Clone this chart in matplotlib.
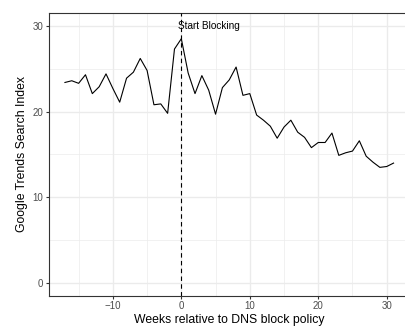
import matplotlib
matplotlib.use("Agg")
import matplotlib.pyplot as plt
from matplotlib.ticker import MultipleLocator

weeks = list(range(-17, 32))
index_values = [23.4, 23.6, 23.3, 24.3, 22.1, 22.9, 24.4, 22.7, 21.1, 23.9,
                24.6, 26.2, 24.8, 20.8, 20.9, 19.8, 27.3, 28.5, 24.5, 22.1,
                24.2, 22.5, 19.7, 22.8, 23.7, 25.2, 21.9, 22.1, 19.6, 19.0,
                18.3, 16.9, 18.2, 19.0, 17.6, 17.0, 15.8, 16.4, 16.4, 17.5,
                14.9, 15.2, 15.4, 16.6, 14.8, 14.1, 13.5, 13.6, 14.0]
block_week = 0
annot_label = "Start Blocking"
annot_x, annot_y = 4, 30
xlabel = "Weeks relative to DNS block policy"
ylabel = "Google Trends Search Index"

plt.rcParams['font.family'] = ['Liberation Sans', 'DejaVu Sans']
dpi = 80
fig = plt.figure(figsize=(405 / dpi, 329 / dpi), dpi=dpi)
ax = fig.add_axes([48.5 / 405, 33 / 329, (410 - 48.5) / 405, 283 / 329])

ax.plot(weeks, index_values, color='black', lw=1.0, zorder=3)
ax.axvline(block_week, color='black', lw=1.0, ls=(0, (4, 3)), zorder=3)
ax.text(annot_x, annot_y, annot_label, ha='center', va='center', fontsize=9, color='black', zorder=4)

ax.set_xlim(-19.4, 33.4)
ax.set_ylim(-1.5, 31.5)
ax.xaxis.set_major_locator(MultipleLocator(10))
ax.xaxis.set_minor_locator(MultipleLocator(5))
ax.yaxis.set_major_locator(MultipleLocator(10))
ax.yaxis.set_minor_locator(MultipleLocator(5))
ax.grid(which='major', color='#EBEBEB', lw=1.2, zorder=0)
ax.grid(which='minor', color='#EBEBEB', lw=0.6, zorder=0)
ax.set_axisbelow(True)
for s in ax.spines.values():
    s.set_color('#333333')
    s.set_linewidth(1.0)
ax.tick_params(which='major', direction='out', length=2.75, width=1.0, color='#333333',
               labelsize=8.8, labelcolor='#4D4D4D', pad=2)
ax.tick_params(which='minor', length=0)
ax.set_xlabel(xlabel, fontsize=11, color='black', labelpad=2)
ax.set_ylabel(ylabel, fontsize=11, color='black', labelpad=4)

fig.savefig('out.png', dpi=dpi)
